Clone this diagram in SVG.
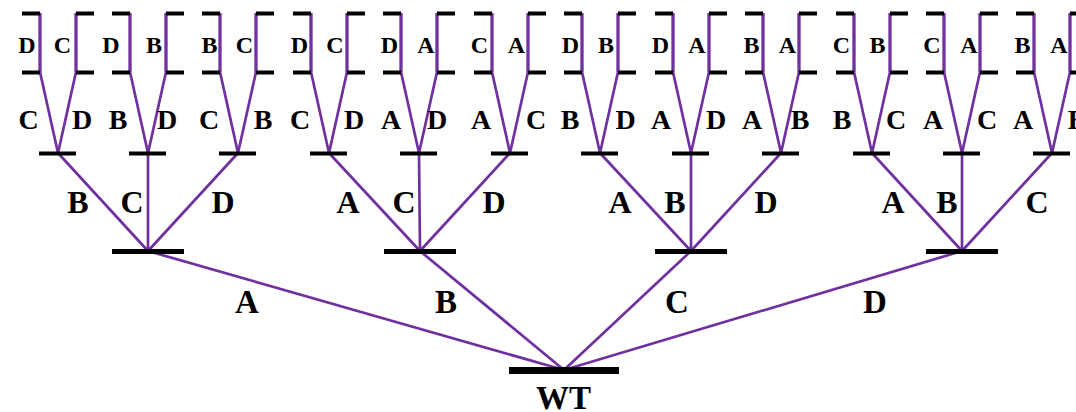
<svg xmlns="http://www.w3.org/2000/svg" width="1076" height="412" viewBox="0 0 1076 412">
<style>
.c{fill:none;stroke:#7030A0;stroke-width:2.7;stroke-linejoin:miter}
.v{fill:none;stroke:#7030A0;stroke-width:3.3}
.b1{stroke:#000;stroke-width:4}
.b2{stroke:#000;stroke-width:5}
.b3{stroke:#000;stroke-width:7}
text{font-family:"Liberation Serif","Times New Roman",serif;font-weight:bold;fill:#000;text-anchor:middle}
.t0{font-size:24px}
.t1{font-size:28px}
.t2{font-size:32px}
.t3{font-size:33px}
</style>
<rect width="1076" height="412" fill="#fff"/>
<g id="connectors">
<path class="c" d="M564 370L148 251M564 370L420 251M564 370L691 251M564 370L962 251"/>
<path class="c" d="M148 251L58 153M148 251L148 153M148 251L238 153"/>
<path class="c" d="M420 251L329 153M420 251L419 153M420 251L510 153"/>
<path class="c" d="M691 251L600 153M691 251L691 153M691 251L781 153"/>
<path class="c" d="M962 251L872 153M962 251L962 153M962 251L1052 153"/>
<path class="c" d="M58 153L40 72M58 153L76 72M148 153L130 72M148 153L166 72M238 153L220 72M238 153L256 72"/>
<path class="c" d="M329 153L311 72M329 153L347 72M419 153L401 72M419 153L437 72M510 153L492 72M510 153L528 72"/>
<path class="c" d="M600 153L582 72M600 153L618 72M691 153L673 72M691 153L709 72M781 153L763 72M781 153L799 72"/>
<path class="c" d="M872 153L854 72M872 153L890 72M962 153L944 72M962 153L980 72M1052 153L1034 72M1052 153L1070 72"/>
<path class="v" d="M40 13V72M76 13V72M130 13V72M166 13V72M220 13V72M256 13V72M311 13V72M347 13V72M401 13V72M437 13V72M492 13V72M528 13V72M582 13V72M618 13V72M673 13V72M709 13V72M763 13V72M799 13V72M854 13V72M890 13V72M944 13V72M980 13V72M1034 13V72M1070 13V72"/>
<g id="edge-labels">
<text class="t3" x="247" y="313">A</text>
<text class="t3" x="446" y="313">B</text>
<text class="t3" x="677" y="313">C</text>
<text class="t3" x="875" y="313">D</text>
<text class="t2" x="78" y="213">B</text>
<text class="t2" x="132" y="213">C</text>
<text class="t2" x="223" y="213">D</text>
<text class="t2" x="348" y="213">A</text>
<text class="t2" x="404" y="213">C</text>
<text class="t2" x="494" y="213">D</text>
<text class="t2" x="620" y="213">A</text>
<text class="t2" x="675" y="213">B</text>
<text class="t2" x="766" y="213">D</text>
<text class="t2" x="893" y="213">A</text>
<text class="t2" x="947" y="213">B</text>
<text class="t2" x="1037" y="213">C</text>
<text class="t1" x="28.5" y="129">C</text>
<text class="t1" x="82" y="129">D</text>
<text class="t1" x="118" y="129">B</text>
<text class="t1" x="167" y="129">D</text>
<text class="t1" x="209" y="129">C</text>
<text class="t1" x="263" y="129">B</text>
<text class="t1" x="300" y="129">C</text>
<text class="t1" x="354" y="129">D</text>
<text class="t1" x="391" y="129">A</text>
<text class="t1" x="437" y="129">D</text>
<text class="t1" x="481" y="129">A</text>
<text class="t1" x="536" y="129">C</text>
<text class="t1" x="570" y="129">B</text>
<text class="t1" x="625.5" y="129">D</text>
<text class="t1" x="661" y="129">A</text>
<text class="t1" x="716" y="129">D</text>
<text class="t1" x="752" y="129">A</text>
<text class="t1" x="800" y="129">B</text>
<text class="t1" x="842" y="129">B</text>
<text class="t1" x="896" y="129">C</text>
<text class="t1" x="933" y="129">A</text>
<text class="t1" x="987" y="129">C</text>
<text class="t1" x="1023" y="129">A</text>
<text class="t1" x="1077" y="129">B</text>
</g>
</g>
<g id="node-WT"><line class="b3" x1="509" y1="370.5" x2="619" y2="370.5"/><text class="t3" x="563.5" y="409">WT</text></g>
<g id="node-A"><line class="b2" x1="112" y1="251.5" x2="184" y2="251.5"/></g>
<g id="node-B"><line class="b2" x1="384" y1="251.5" x2="456" y2="251.5"/></g>
<g id="node-C"><line class="b2" x1="655" y1="251.5" x2="727" y2="251.5"/></g>
<g id="node-D"><line class="b2" x1="926" y1="251.5" x2="998" y2="251.5"/></g>
<g id="node-AB"><line class="b1" x1="39" y1="153.5" x2="76" y2="153.5"/></g>
<g id="node-AC"><line class="b1" x1="129" y1="153.5" x2="166" y2="153.5"/></g>
<g id="node-AD"><line class="b1" x1="219" y1="153.5" x2="256" y2="153.5"/></g>
<g id="node-BA"><line class="b1" x1="310" y1="153.5" x2="347" y2="153.5"/></g>
<g id="node-BC"><line class="b1" x1="400" y1="153.5" x2="437" y2="153.5"/></g>
<g id="node-BD"><line class="b1" x1="491" y1="153.5" x2="528" y2="153.5"/></g>
<g id="node-CA"><line class="b1" x1="581" y1="153.5" x2="618" y2="153.5"/></g>
<g id="node-CB"><line class="b1" x1="672" y1="153.5" x2="709" y2="153.5"/></g>
<g id="node-CD"><line class="b1" x1="762" y1="153.5" x2="799" y2="153.5"/></g>
<g id="node-DA"><line class="b1" x1="853" y1="153.5" x2="890" y2="153.5"/></g>
<g id="node-DB"><line class="b1" x1="943" y1="153.5" x2="980" y2="153.5"/></g>
<g id="node-DC"><line class="b1" x1="1033" y1="153.5" x2="1070" y2="153.5"/></g>
<g id="leaf-1"><path class="b1" d="M22 13.5H40M22 72.5H40"/><text class="t0" x="27" y="53">D</text></g>
<g id="leaf-2"><path class="b1" d="M76 13.5H94M76 72.5H94"/><text class="t0" x="62.5" y="53">C</text></g>
<g id="leaf-3"><path class="b1" d="M112 13.5H130M112 72.5H130"/><text class="t0" x="111" y="53">D</text></g>
<g id="leaf-4"><path class="b1" d="M166 13.5H184M166 72.5H184"/><text class="t0" x="154" y="53">B</text></g>
<g id="leaf-5"><path class="b1" d="M202 13.5H220M202 72.5H220"/><text class="t0" x="209.5" y="53">B</text></g>
<g id="leaf-6"><path class="b1" d="M256 13.5H274M256 72.5H274"/><text class="t0" x="244.5" y="53">C</text></g>
<g id="leaf-7"><path class="b1" d="M293 13.5H311M293 72.5H311"/><text class="t0" x="299.5" y="53">D</text></g>
<g id="leaf-8"><path class="b1" d="M347 13.5H365M347 72.5H365"/><text class="t0" x="335" y="53">C</text></g>
<g id="leaf-9"><path class="b1" d="M383 13.5H401M383 72.5H401"/><text class="t0" x="389.5" y="53">D</text></g>
<g id="leaf-10"><path class="b1" d="M437 13.5H455M437 72.5H455"/><text class="t0" x="426" y="53">A</text></g>
<g id="leaf-11"><path class="b1" d="M474 13.5H492M474 72.5H492"/><text class="t0" x="479.5" y="53">C</text></g>
<g id="leaf-12"><path class="b1" d="M528 13.5H546M528 72.5H546"/><text class="t0" x="516.5" y="53">A</text></g>
<g id="leaf-13"><path class="b1" d="M564 13.5H582M564 72.5H582"/><text class="t0" x="570.5" y="53">D</text></g>
<g id="leaf-14"><path class="b1" d="M618 13.5H636M618 72.5H636"/><text class="t0" x="606" y="53">B</text></g>
<g id="leaf-15"><path class="b1" d="M655 13.5H673M655 72.5H673"/><text class="t0" x="660.5" y="53">D</text></g>
<g id="leaf-16"><path class="b1" d="M709 13.5H727M709 72.5H727"/><text class="t0" x="697" y="53">A</text></g>
<g id="leaf-17"><path class="b1" d="M745 13.5H763M745 72.5H763"/><text class="t0" x="751.5" y="53">B</text></g>
<g id="leaf-18"><path class="b1" d="M799 13.5H817M799 72.5H817"/><text class="t0" x="787.5" y="53">A</text></g>
<g id="leaf-19"><path class="b1" d="M836 13.5H854M836 72.5H854"/><text class="t0" x="841.5" y="53">C</text></g>
<g id="leaf-20"><path class="b1" d="M890 13.5H908M890 72.5H908"/><text class="t0" x="877.5" y="53">B</text></g>
<g id="leaf-21"><path class="b1" d="M926 13.5H944M926 72.5H944"/><text class="t0" x="932" y="53">C</text></g>
<g id="leaf-22"><path class="b1" d="M980 13.5H998M980 72.5H998"/><text class="t0" x="969" y="53">A</text></g>
<g id="leaf-23"><path class="b1" d="M1016 13.5H1034M1016 72.5H1034"/><text class="t0" x="1022.5" y="53">B</text></g>
<g id="leaf-24"><path class="b1" d="M1070 13.5H1088M1070 72.5H1088"/><text class="t0" x="1059" y="53">A</text></g>
</svg>
